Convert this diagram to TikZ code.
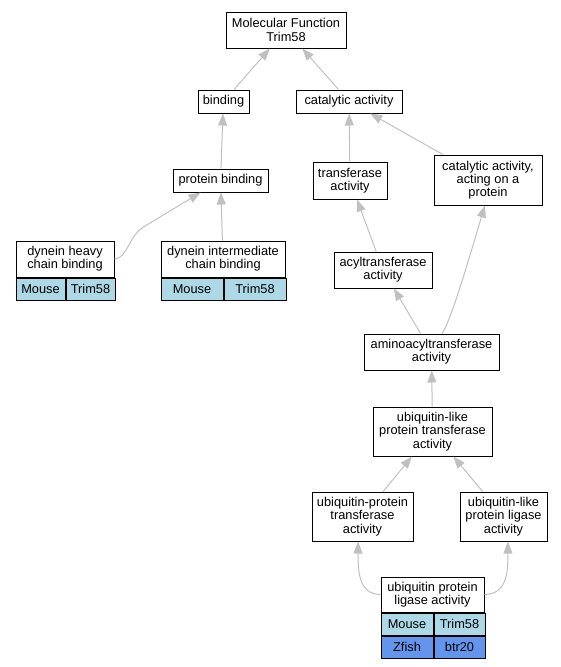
\documentclass[tikz,border=0pt]{standalone}
\usepackage{fontspec}
\setmainfont{Liberation Sans}
\usepackage{xcolor}
\usepackage{tikz}
\usetikzlibrary{arrows.meta, positioning}
\definecolor{mymouse}{RGB}{173, 216, 230}
\definecolor{myfish}{RGB}{100, 149, 237}
\definecolor{myedge}{RGB}{192, 192, 192}

\tikzset{
    term/.style={rectangle, draw=black, line width=1pt, fill=white, inner sep=0pt, align=center, font=\fontsize{12.8}{13.3}\selectfont},
    mousecell/.style={term, fill=mymouse, minimum height=22pt, anchor=north west},
    fishcell/.style={term, fill=myfish, minimum height=22pt, anchor=north west},
    isa/.style={draw=myedge, line width=1pt, -{Triangle[length=12pt, width=9pt]}}
}

\begin{document}
\begin{tikzpicture}[x=1pt, y=-1pt]
    \useasboundingbox (0, 0) rectangle (561, 667);

    % 根节点
    \node[term, minimum width=120pt, minimum height=36pt] (mf) at (286, 30) {Molecular Function\\Trim58};

    % 第一层
    \node[term, minimum width=51pt, minimum height=23pt] (bd) at (223.5, 101.5) {binding};
    \node[term, minimum width=106pt, minimum height=23pt] (ca) at (349, 101.5) {catalytic activity};

    % 第二层
    \node[term, minimum width=95pt, minimum height=23pt] (pb) at (220.5, 180.5) {protein binding};
    \node[term, minimum width=74pt, minimum height=37pt] (tr) at (350, 180.5) {transferase\\activity};
    \node[term, minimum width=108pt, minimum height=50pt] (cap) at (488, 180) {catalytic activity,\\acting on a\\protein};

    % dynein 注释表
    \node[term, minimum width=98pt, minimum height=36pt] (dhc) at (65, 259) {dynein heavy\\chain binding};
    \node[mousecell, minimum width=49pt] (dhcM) at (dhc.south west) {Mouse};
    \node[mousecell, minimum width=49pt] (dhcT) at (dhcM.north east) {Trim58};
    \node[term, minimum width=124pt, minimum height=36pt] (dic) at (223, 259) {dynein intermediate\\chain binding};
    \node[mousecell, minimum width=62pt] (dicM) at (dic.south west) {Mouse};
    \node[mousecell, minimum width=62pt] (dicT) at (dicM.north east) {Trim58};

    % 转移酶分支
    \node[term, minimum width=98pt, minimum height=36pt] (acyl) at (383, 270) {acyltransferase\\activity};
    \node[term, minimum width=135pt, minimum height=36pt] (aa) at (431.5, 352) {aminoacyltransferase\\activity};
    \node[term, minimum width=119pt, minimum height=49pt] (ult) at (432.5, 431.5) {ubiquitin-like\\protein transferase\\activity};
    \node[term, minimum width=101pt, minimum height=49pt] (upt) at (362.5, 516.5) {ubiquitin-protein\\transferase\\activity};
    \node[term, minimum width=87pt, minimum height=49pt] (ull) at (503.5, 516.5) {ubiquitin-like\\protein ligase\\activity};

    % 底部注释表
    \node[term, minimum width=103pt, minimum height=35pt] (upl) at (432.5, 594.5) {ubiquitin protein\\ligase activity};
    \node[mousecell, minimum width=52pt] (uplM) at (upl.south west) {Mouse};
    \node[mousecell, minimum width=51pt] (uplT) at (uplM.north east) {Trim58};
    \node[fishcell, minimum width=52pt] (uplZ) at (uplM.south west) {Zfish};
    \node[fishcell, minimum width=51pt] (uplB) at (uplZ.north east) {btr20};

    % 连线
    \draw[isa] (bd) -- (mf);
    \draw[isa] (ca) -- (mf);
    \draw[isa] (pb) -- (bd);
    \draw[isa] (tr) -- (ca);
    \draw[isa] (cap) -- (ca);
    \draw[isa] (dhc.east) .. controls (128, 258) and (128, 236) .. (145, 226) -- (pb);
    \draw[isa] (dic) -- (pb);
    \draw[isa] (acyl) -- (tr);
    \draw[isa] (aa) -- (acyl);
    \draw[isa] (aa.60) .. controls (452, 318) and (470, 255) .. (cap.-97);
    \draw[isa] (ult) -- (aa);
    \draw[isa] (upt) -- (ult);
    \draw[isa] (ull) -- (ult);
    \draw[isa] (upl.west) .. controls (360, 594) and (358, 575) .. (upt.-100);
    \draw[isa] (upl.east) .. controls (506, 594) and (508, 575) .. (ull.-80);
\end{tikzpicture}
\end{document}
